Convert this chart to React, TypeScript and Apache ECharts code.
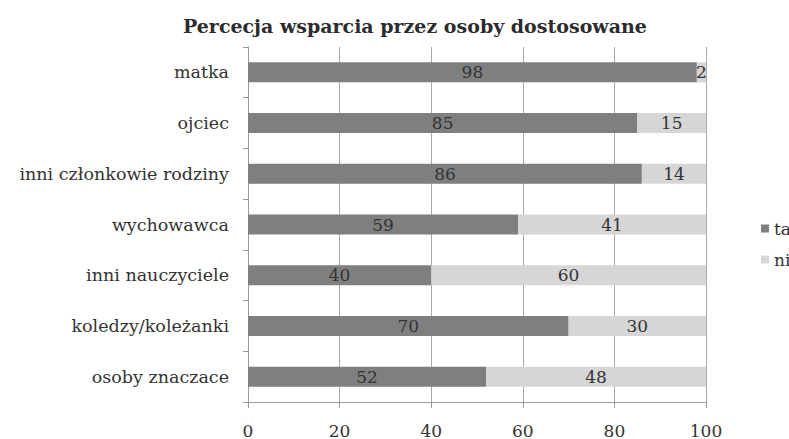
import React, { useEffect, useRef } from "react";
import * as echarts from "echarts";

const categories = [
  "matka",
  "ojciec",
  "inni członkowie rodziny",
  "wychowawca",
  "inni nauczyciele",
  "koledzy/koleżanki",
  "osoby znaczace",
];
const takValues = [98, 85, 86, 59, 40, 70, 52];
const nieValues = [2, 15, 14, 41, 60, 30, 48];
const seriesNames = ["tak", "nie"];
const titleText = "Percecja wsparcia przez osoby dostosowane";

const FONT = "'DejaVu Serif', 'Liberation Serif', serif";

export default function App() {
  const ref = useRef<HTMLDivElement>(null);
  useEffect(() => {
    document.body.style.margin = "0";
    const chart = echarts.init(ref.current!, null, { renderer: "svg" });
    chart.setOption({
      animation: false,
      backgroundColor: "#ffffff",
      title: {
        text: titleText,
        left: 178,
        top: 11,
        textStyle: {
          fontFamily: FONT,
          fontSize: 19,
          fontWeight: "bold",
          color: "#2c2c2c",
        },
      },
      legend: {
        orient: "vertical",
        left: 756,
        top: 215,
        itemWidth: 8,
        itemHeight: 8,
        itemGap: 14,
        icon: "rect",
        textStyle: { fontFamily: FONT, fontSize: 17, color: "#333" },
        data: seriesNames,
      },
      grid: { left: 248, right: 83, top: 47, bottom: 34, containLabel: false },
      xAxis: {
        type: "value",
        min: 0,
        max: 100,
        interval: 20,
        axisLine: { show: true, lineStyle: { color: "#9a9a9a" } },
        axisTick: { show: true, length: 6, lineStyle: { color: "#9a9a9a" } },
        splitLine: { show: true, lineStyle: { color: "#a8a8a8" } },
        axisLabel: { fontFamily: FONT, fontSize: 17, color: "#333", margin: 20 },
      },
      yAxis: {
        type: "category",
        inverse: true,
        data: categories,
        axisLine: { show: true, lineStyle: { color: "#9a9a9a" } },
        axisTick: { show: true, length: 5, lineStyle: { color: "#9a9a9a" } },
        axisLabel: { fontFamily: FONT, fontSize: 17.5, color: "#333", margin: 19 },
      },
      series: [
        {
          name: seriesNames[0],
          type: "bar",
          stack: "total",
          data: takValues,
          barWidth: 20,
          itemStyle: { color: "#7f7f80" },
          label: {
            show: true,
            position: "inside",
            fontFamily: FONT,
            fontSize: 17,
            color: "#333",
          },
        },
        {
          name: seriesNames[1],
          type: "bar",
          stack: "total",
          data: nieValues,
          barWidth: 20,
          itemStyle: { color: "#d6d6d6" },
          label: {
            show: true,
            position: "inside",
            fontFamily: FONT,
            fontSize: 17,
            color: "#333",
          },
        },
      ],
    });
    return () => chart.dispose();
  }, []);
  return (
    <div
      ref={ref}
      style={{ position: "absolute", left: 0, top: 0, width: 789, height: 439 }}
    />
  );
}
